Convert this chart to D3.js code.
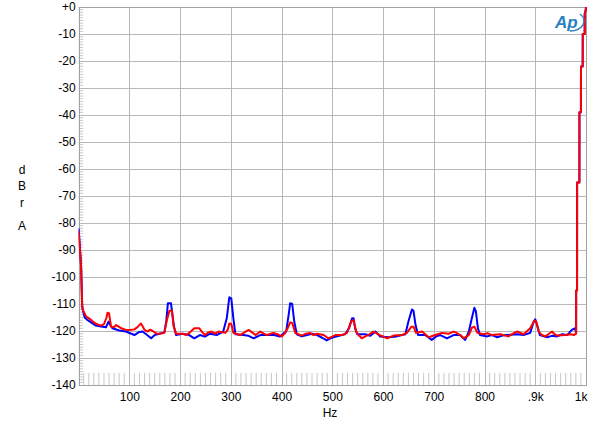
<!DOCTYPE html>
<html><head><meta charset="utf-8">
<script src="https://cdn.jsdelivr.net/npm/d3@7"></script>
<style>body{margin:0;background:#fff}svg{display:block}</style>
</head><body>
<svg id="c" width="600" height="430"></svg>
<script>
const xTicks = [100,200,300,400,500,600,700,800,900,1000];
const xTickLabels = ["100","200","300","400","500","600","700","800",".9k","1k"];
const yTicks = [0,-10,-20,-30,-40,-50,-60,-70,-80,-90,-100,-110,-120,-130,-140];
const yTickLabels = ["+0","-10","-20","-30","-40","-50","-60","-70","-80","-90","-100","-110","-120","-130","-140"];
const yAxisLetters = ["d","B","r","A"];
const xAxisTitle = "Hz";

const blueHz = [0,3,5,7,8,12,18,26,34,44,54,59,63,67,80,93,110,118,126,135,143,150,159,169,173,176,182,185,188,192,205,218,228,239,249,259,272,285,292,297,301,305,309,325,335,345,358,371,385,397,409,414,417,421,425,430,440,450,460,470,480,489,496,509,525,533,539,542,545,549,565,575,585,594,611,627,644,650,657,660,664,669,683,696,705,713,726,739,752,762,769,775,780,783,787,791,805,815,825,835,844,864,877,890,897,900,903,909,923,933,943,953,963,972,978,980.5,980.6,982.4,982.5,987,987.1,990,990.1,993.5,993.6,997.4,997.5,999.5,1000];
const blueDb = [-82,-90,-96,-110,-112,-115,-116,-117,-118,-118.3,-118.6,-116.5,-118,-119,-119.8,-120.2,-121.5,-120.5,-120.2,-121.5,-122.7,-121.5,-121,-120.5,-116,-109.7,-109.7,-114,-118.4,-121.5,-121,-121.5,-122.7,-121.5,-122.1,-121,-121.5,-120.2,-115.3,-107.5,-108,-115.3,-121.2,-121.5,-121.8,-122.7,-121.5,-121.5,-121.5,-122,-120.2,-114,-109.7,-110,-116.5,-121.2,-122,-121.5,-121,-121.5,-122.5,-123.5,-122.7,-122,-121.2,-119,-115.3,-115.3,-119,-121.2,-121.2,-121.8,-120.2,-122,-122.3,-122,-121.2,-116.5,-112,-112.5,-117.7,-121.5,-121.5,-123.3,-122,-121.5,-122.7,-121.5,-121.5,-123.3,-120.2,-115.3,-111.4,-112.7,-119,-121.5,-122,-121.5,-122.3,-121.7,-121.5,-121.2,-121.5,-120.7,-116.5,-115.7,-117.5,-121.5,-122.3,-121.8,-122,-121.2,-121.5,-119.6,-119,-120.5,-105,-105,-65,-65,-39,-39,-22,-22,-10,-10,-2.5,-1,0];

const redHz = [0,3,5,7,8,15,22,28,36,44,50,55,57,60,62,64,70,74,80,84,92,100,110,117,123,127,130,136,141,146,153,160,169,174,179,184,187,192,205,212,218,228,238,244,249,256,262,269,276,289,294,297,301,305,318,327,335,342,349,358,365,371,384,392,400,406,412,417,421,427,440,448,456,463,470,483,492,506,519,529,537,542,547,552,558,565,571,581,594,608,621,637,647,656,660,665,677,690,703,716,730,739,745,752,759,769,775,780,786,798,806,814,831,847,856,864,877,890,898,902,907,913,920,927,933,938,943,959,970,976,980.5,980.6,982.4,982.5,987,987.1,990,990.1,993.5,993.6,997.4,997.5,999.5,1000];
const redDb = [-83,-91,-97,-111,-112,-114.7,-115.5,-116.5,-117.5,-118,-117.5,-115,-113.2,-113.5,-116,-118.4,-118.5,-117.8,-118.5,-119,-119.5,-119.6,-119.4,-118.4,-117.2,-118.5,-119.6,-120.2,-119.5,-120,-120.9,-121,-120.7,-116,-112.5,-112.5,-118,-121,-121,-121.5,-120.7,-119,-119,-120.5,-121.5,-120.5,-120.2,-121,-120.2,-120.7,-119.5,-117.2,-117.4,-120.7,-121.5,-120.5,-119.6,-120.5,-121.5,-120.2,-121,-121.5,-120.7,-121.2,-122,-121,-119,-116.8,-117,-120.7,-121.7,-121,-120.7,-121.5,-121,-121.5,-122.7,-121.5,-121.5,-120.7,-116.5,-116,-120.2,-121.5,-122.7,-122,-121.5,-120.2,-121.5,-122.7,-121.7,-121.5,-120.7,-118.4,-118.4,-120.7,-120.2,-122.3,-121.5,-120.7,-121,-120.2,-120.7,-121.5,-122.7,-121.5,-118.8,-118.4,-120.7,-121.2,-120.8,-121.5,-121.2,-122,-121,-120.2,-121.2,-119,-116.3,-116.5,-120.2,-121.5,-122,-121,-120.2,-121.2,-121.7,-121.5,-121.2,-121.5,-121,-105,-105,-65,-65,-39,-39,-22,-22,-10,-10,-2.5,-1,0];

const svg = d3.select("#c");
const L = 78.6, R = 586, T = 7, B = 385;
const x = d3.scaleLinear().domain([0,1000]).range([L,R]);
const y = d3.scaleLinear().domain([-140,0]).range([B,T]);

// minor ticks bottom (every 10 Hz)
const minorX = d3.range(10,1000,10).filter(v=>v%100!==0);
svg.append("g").selectAll("line").data(minorX).join("line")
  .attr("x1",d=>x(d)).attr("x2",d=>x(d)).attr("y1",y(-135.5)).attr("y2",B)
  .attr("stroke","#c8c8c8").attr("stroke-width",1);
// minor ticks left (every 1 dB)
const minorY = d3.range(-139,0,1).filter(v=>v%10!==0);
svg.append("g").selectAll("line").data(minorY).join("line")
  .attr("x1",L).attr("x2",L+4.5).attr("y1",d=>y(d)).attr("y2",d=>y(d))
  .attr("stroke","#c8c8c8").attr("stroke-width",1);

// grid
svg.append("g").selectAll("line").data(yTicks).join("line")
  .attr("x1",L).attr("x2",R).attr("y1",d=>Math.round(y(d))+0.5).attr("y2",d=>Math.round(y(d))+0.5)
  .attr("stroke","#b8b8b8").attr("stroke-width",1);
svg.append("g").selectAll("line").data([0].concat(xTicks)).join("line")
  .attr("x1",d=>Math.round(x(d))+0.5).attr("x2",d=>Math.round(x(d))+0.5).attr("y1",T).attr("y2",B)
  .attr("stroke","#b8b8b8").attr("stroke-width",1);
svg.append("rect").attr("x",Math.round(L)+0.5).attr("y",T+0.5).attr("width",Math.round(R)-Math.round(L)).attr("height",B-T)
  .attr("fill","none").attr("stroke","#a0a0a0");

// axes labels
const yAx = svg.append("g").attr("transform",`translate(${L},0)`)
  .call(d3.axisLeft(y).tickValues(yTicks).tickSize(0).tickPadding(3).tickFormat((d,i)=>yTickLabels[i]));
yAx.select(".domain").remove();
yAx.selectAll("text").attr("font-family","Liberation Sans, Arial, sans-serif").attr("font-size",12).attr("fill","#000");

const xAx = svg.append("g").attr("transform",`translate(0,${B})`)
  .call(d3.axisBottom(x).tickValues(xTicks).tickSize(0).tickPadding(7).tickFormat((d,i)=>xTickLabels[i]));
xAx.select(".domain").remove();
xAx.selectAll("text").attr("font-family","Liberation Sans, Arial, sans-serif").attr("font-size",12).attr("fill","#000");
xAx.selectAll(".tick").filter(d=>d===1000).select("text").attr("text-anchor","end").attr("dx",1);

svg.append("text").attr("x",330).attr("y",417).attr("text-anchor","middle")
  .attr("font-family","Liberation Sans, Arial, sans-serif").attr("font-size",12).text(xAxisTitle);
const letterY = [170,186,203,226];
svg.append("g").selectAll("text").data(yAxisLetters).join("text")
  .attr("x",22).attr("y",(d,i)=>letterY[i]+4).attr("text-anchor","middle")
  .attr("font-family","Liberation Sans, Arial, sans-serif").attr("font-size",12).text(d=>d);

// curves
const clip = svg.append("clipPath").attr("id","pc").append("rect").attr("x",L).attr("y",T-2).attr("width",R-L+1).attr("height",B-T+4);
const line = d3.line().x(d=>x(d[0])).y(d=>y(d[1]));
svg.append("path").datum(blueHz.map((h,i)=>[h,blueDb[i]])).attr("d",line)
  .attr("fill","none").attr("stroke","#0000ff").attr("stroke-width",2).attr("stroke-linejoin","round").attr("clip-path","url(#pc)");
svg.append("path").datum(redHz.map((h,i)=>[h,redDb[i]])).attr("d",line)
  .attr("fill","none").attr("stroke","#ff0000").attr("stroke-width",2).attr("stroke-linejoin","round").attr("clip-path","url(#pc)");

// AP logo
const logo = svg.append("g").attr("transform","translate(554,12)");
logo.append("path").attr("d","M16,19 A14,10 0 0 0 26,2").attr("fill","none").attr("stroke","#2a7fc0").attr("stroke-width",1.5);
logo.append("text").attr("x",1).attr("y",16).attr("font-family","Liberation Sans, Arial, sans-serif")
  .attr("font-style","italic").attr("font-weight","bold").attr("font-size",17).attr("fill","#2a7fc0").text("Ap");
</script>
</body></html>
